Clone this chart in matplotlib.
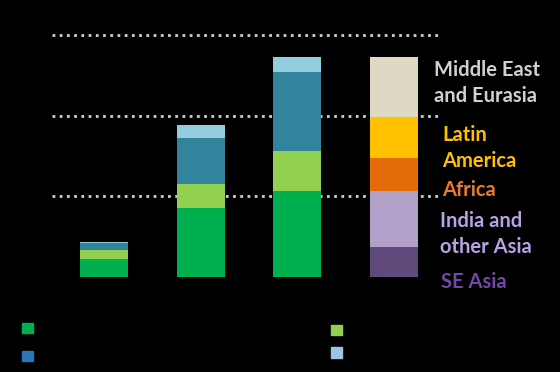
import matplotlib.pyplot as plt
from matplotlib.patches import Patch
import numpy as np

# 前三根柱子：四个分项（自下而上）
series_names = ["Series 1", "Series 2", "Series 3", "Series 4"]
green = [0.22, 0.85, 1.07]
light_green = [0.11, 0.30, 0.49]
teal = [0.09, 0.57, 0.98]
light_blue = [0.02, 0.17, 0.19]

# 第四根柱子：按地区拆分（自下而上）
regions = ["SE Asia", "India and\nother Asia", "Africa", "Latin\nAmerica", "Middle East\nand Eurasia"]
region_values = [0.37, 0.69, 0.41, 0.51, 0.75]

stack_colors = ["#00B050", "#92D050", "#31849B", "#93CDDD"]
legend_colors = ["#00B050", "#2E75B6", "#92D050", "#9DC3E6"]
region_colors = ["#604A7B", "#B1A0C7", "#E36C09", "#FFC000", "#DDD9C3"]
label_colors = ["#7346A8", "#B7A2E3", "#E97A2E", "#FFC000", "#D0D0D0"]

fig = plt.figure(figsize=(5.6, 3.72), dpi=100, facecolor="black")
ax = fig.add_axes([52 / 560, (372 - 277) / 372, 388 / 560, 242 / 372])
ax.set_facecolor("black")

x = np.arange(3)
bottom = np.zeros(3)
for vals, c in zip([green, light_green, teal, light_blue], stack_colors):
    ax.bar(x, vals, width=0.5, bottom=bottom, color=c, zorder=3)
    bottom += np.array(vals)

b = 0.0
for v, c in zip(region_values, region_colors):
    ax.bar(3, v, width=0.5, bottom=b, color=c, zorder=3)
    b += v

ax.set_xlim(-0.54, 3.48)
ax.set_ylim(0, 3)
ax.set_yticks([1, 2, 3])
ax.yaxis.grid(True, color="#D0D0D0", linestyle=(0, (1, 1.6)), linewidth=2.0, zorder=1)
for gl in ax.get_ygridlines():
    gl.set_clip_on(False)
ax.set_xticks([])
ax.tick_params(left=False, labelleft=False)
for s in ax.spines.values():
    s.set_visible(False)

# 右侧地区标签
font = ["Lato", "DejaVu Sans"]
label_pos = [(441, 282), (440, 234), (442, 190), (442, 148), (434, 83)]
for name, (px, py), c in zip(regions, label_pos, label_colors):
    fig.text(px / 560, 1 - py / 372, name, color=c, fontsize=14.5, fontweight="bold",
             family=font, va="center", ha="left", linespacing=1.38)

# 图例（文字为黑色）
h = [Patch(color=c) for c in legend_colors]
leg1 = fig.legend(h[:2], series_names[:2], loc="upper left", bbox_to_anchor=(22 / 560, 1 - 322 / 372),
                  frameon=False, fontsize=10, labelcolor="black", handlelength=0.8, handleheight=0.75,
                  labelspacing=1.0, borderpad=0, borderaxespad=0)
leg2 = fig.legend(h[2:], series_names[2:], loc="upper left", bbox_to_anchor=(331 / 560, 1 - 324 / 372),
                  frameon=False, fontsize=10, labelcolor="black", handlelength=0.8, handleheight=0.75,
                  labelspacing=0.6, borderpad=0, borderaxespad=0)

fig.savefig("out.png", dpi=100, facecolor="black")
